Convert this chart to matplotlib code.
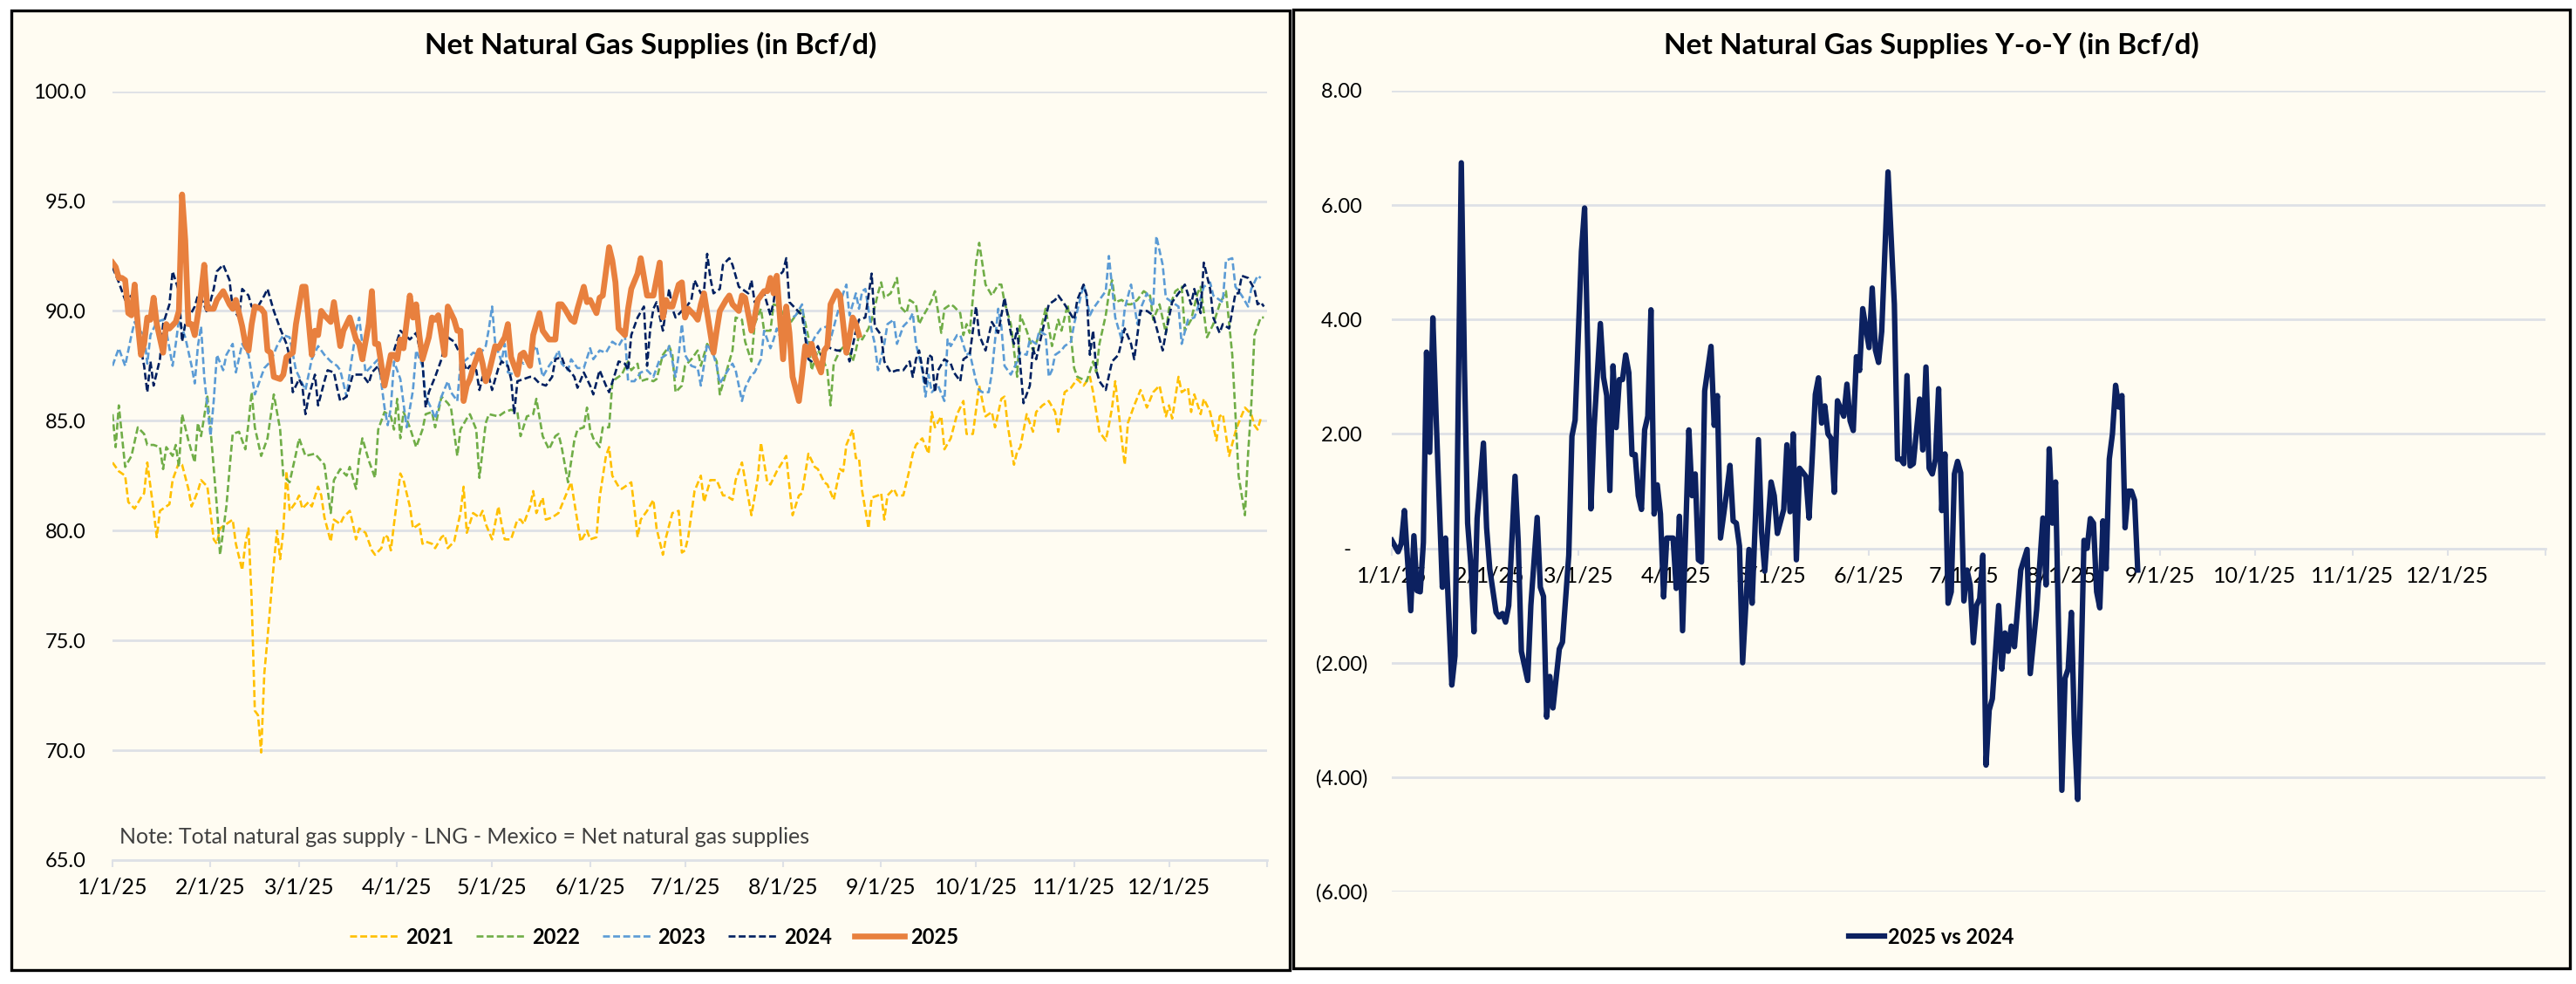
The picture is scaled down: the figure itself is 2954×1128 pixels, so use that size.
import matplotlib
matplotlib.use("Agg")
import matplotlib.pyplot as plt
from matplotlib.patches import Rectangle

plt.rcParams['font.family'] = ['Lato', 'DejaVu Sans']

# ---- data (day of year offset from 1/1, value in Bcf/d) ----
s2021 = [(0,83.1),(2,82.7),(4,82.5),(5,81.3),(7,81.0),(9,81.5),(10,81.7),(11,83.1),(13,80.9),(14,79.7),(15,80.9),
         (18,81.2),(19,82.3),(21,83.1),(22,83.0),(24,81.9),(25,81.1),(27,81.8),(28,82.3),(30,82.0),(32,79.6),(33,79.4),
         (34,80.1),(36,80.3),(38,80.5),(39,79.4),(41,78.2),(42,79.4),(43,80.1),(44,76.8),(45,71.8),(46,71.6),(47,69.9),
         (48,73.5),(49,75.1),(51,78.5),(52,80.0),(53,78.7),(54,80.0),(55,82.7),(56,80.9),(58,81.3),(59,81.6),(60,81.0),
         (62,81.3),(63,81.1),(65,82.0),(66,81.6),(67,80.6),(69,79.5),(70,80.5),(72,80.3),(73,80.6),(75,80.9),(76,80.3),
         (77,79.6),(78,80.1),(80,79.9),(82,79.1),(83,78.9),(85,79.2),(86,79.8),(87,79.7),(88,79.1),(89,80.3),(91,82.6),
         (92,82.3),(94,81.1),(95,80.1),(97,80.3),(98,79.4),(99,79.5),(101,79.4),(102,79.2),(104,79.7),(105,79.8),
         (106,79.2),(108,79.5),(110,80.8),(111,82.0),(112,79.9),(114,80.8),(116,80.6),(117,80.9),(118,80.3),(120,79.6),
         (122,81.1),(123,80.3),(124,79.6),(126,79.6),(128,80.5),(129,80.5),(130,80.3),(132,81.1),(133,81.8),(134,80.8),
         (136,81.5),(137,80.5),(139,80.6),(141,80.8),(143,81.5),(145,82.2),(146,81.3),(148,79.5),(150,80.0),(151,79.6),
         (153,79.7),(154,81.5),(156,83.4),(157,83.8),(158,82.5),(160,82.0),(161,81.9),(162,82.0),(164,82.2),(165,81.0),
         (166,79.7),(167,80.5),(169,80.9),(171,81.4),(172,80.1),(174,78.9),(175,79.7),(177,80.8),(179,80.9),(180,79.0),
         (181,79.1),(182,79.7),(184,81.8),(186,82.5),(187,81.3),(189,82.3),(191,82.3),(193,81.6),(194,81.6),(196,81.4),
         (197,82.3),(199,83.1),(200,82.3),(202,80.7),(204,82.4),(205,84.0),(207,82.2),(208,82.1),(210,82.7),(213,83.4),
         (214,82.0),(215,80.7),(217,81.6),(218,81.7),(220,83.5),(222,82.9),(223,82.8),(225,82.2),(226,82.1),(228,81.4),
         (230,82.8),(231,82.7),(232,83.9),(234,84.6),(235,83.3),(236,83.3),(237,81.8),(239,80.1),(240,81.5),(242,81.6),
         (243,81.7),(244,80.5),(245,81.6),(247,81.9),(248,81.6),(250,81.6),(252,82.8),(253,83.5),(254,83.9),(256,84.2),
         (258,83.5),(259,85.4),(260,84.7),(262,85.2),(263,83.7),(265,84.2),(267,85.3),(269,85.9),(270,84.4),(272,84.4),
         (274,86.6),(276,85.2),(278,85.4),(279,84.7),(281,86.0),(282,86.1),(283,84.8),(285,83.0),(286,83.6),(287,83.8),
         (289,85.3),(291,84.5),(292,85.4),(294,85.7),(296,85.9),(298,85.4),(299,84.5),(301,86.3),(303,86.5),(305,86.9),
         (307,86.6),(309,87.0),(310,86.3),(312,84.5),(314,84.1),(315,84.8),(316,85.6),(317,86.8),(319,84.2),(320,83.0),
         (321,84.9),(323,85.7),(325,86.4),(327,85.6),(329,86.3),(331,86.6),(333,85.2),(334,85.7),(335,85.1),(337,87.0),
         (338,86.3),(340,86.5),(341,85.4),(342,86.2),(344,85.3),(345,86.0),(347,85.4),(349,84.1),(350,85.2),(351,85.3),
         (353,83.4),(355,84.5),(356,84.9),(358,85.6),(360,85.3),(361,84.8),(362,84.6),(363,85.1)]

s2022 = [(0,85.3),(1,83.8),(2,85.7),(4,82.9),(6,83.4),(8,84.7),(10,84.4),(11,83.9),(13,83.9),(15,83.8),(16,82.8),
         (17,83.8),(19,83.4),(20,83.9),(21,82.9),(22,85.3),(24,84.1),(26,83.1),(27,84.9),(28,84.3),(30,86.1),(31,84.6),
         (33,81.1),(34,78.9),(36,81.1),(37,82.8),(38,84.4),(40,84.5),(42,83.7),(43,84.9),(44,86.3),(45,84.7),(47,83.4),
         (49,84.2),(51,86.2),(53,84.6),(54,82.5),(56,82.2),(58,83.5),(59,84.2),(61,83.4),(64,83.5),(67,83.0),(69,80.8),
         (70,82.3),(72,82.8),(74,82.5),(75,82.9),(77,81.9),(78,83.4),(79,84.2),(81,83.2),(83,82.4),(84,84.6),(86,85.4),
         (88,85.2),(89,84.6),(90,86.0),(91,84.2),(92,85.4),(94,84.7),(96,83.8),(98,84.6),(99,85.3),(101,85.4),(102,84.7),
         (104,86.1),(106,85.8),(107,85.6),(109,83.4),(110,84.6),(112,85.1),(113,85.3),(115,84.6),(116,82.4),(118,84.9),
         (119,85.3),(122,85.2),(123,85.3),(124,85.4),(126,85.5),(128,85.4),(129,84.3),(131,85.2),(133,85.3),(134,86.0),
         (136,84.3),(138,83.7),(140,84.3),(141,84.4),(142,83.8),(144,82.2),(146,84.1),(147,84.6),(149,84.7),(150,85.6),
         (151,84.6),(152,84.2),(154,83.8),(155,84.7),(157,84.7),(158,86.7),(159,86.9),(161,87.1),(163,87.7),(164,87.3),
         (166,87.6),(167,86.8),(169,86.9),(171,86.8),(172,86.9),(174,88.0),(176,88.4),(177,88.0),(178,86.3),(180,86.6),
         (181,87.5),(183,87.8),(185,88.2),(186,87.5),(188,88.5),(190,88.0),(191,87.7),(192,86.2),(194,87.2),(196,88.2),
         (197,89.7),(199,89.6),(200,88.6),(202,87.7),(203,89.4),(205,90.1),(206,89.1),(208,89.1),(209,90.3),(211,90.2),
         (212,89.8),(214,89.4),(216,89.8),(218,90.1),(220,88.8),(221,87.3),(223,88.2),(224,88.0),(226,87.3),(227,85.7),
         (228,87.6),(230,88.2),(232,88.5),(234,87.7),(235,88.2),(236,88.9),(237,88.7),(239,89.2),(240,89.6),(242,90.8),
         (243,91.3),(244,90.6),(246,90.8),(248,91.5),(249,90.2),(251,89.9),(252,90.5),(254,90.3),(255,89.4),(256,89.7),
         (258,90.2),(259,90.5),(260,90.9),(262,89.0),(263,90.1),(265,90.3),(266,90.2),(268,89.9),(269,88.9),(270,89.4),
         (271,89.0),(273,92.2),(274,93.1),(276,91.2),(278,90.7),(280,91.2),(281,91.2),(282,90.4),(284,89.4),(286,87.0),
         (287,89.8),(289,89.1),(291,88.2),(293,88.9),(295,90.1),(297,88.4),(299,89.6),(300,89.1),(302,90.3),(304,87.4),
         (305,87.0),(308,86.8),(310,87.7),(311,87.2),(312,88.5),(314,89.8),(315,90.8),(316,91.4),(317,90.4),(319,90.5),
         (321,90.3),(322,90.3),(324,90.5),(326,90.9),(328,90.7),(329,89.6),(331,90.3),(333,89.0),(334,90.1),(336,90.9),
         (338,91.1),(339,89.1),(341,89.6),(343,90.8),(344,91.1),(346,88.8),(348,89.4),(350,90.3),(352,90.9),(354,88.0),
         (355,85.3),(356,82.5),(358,80.7),(359,83.5),(360,85.7),(361,88.9),(363,89.7),(364,89.7)]

s2023 = [(0,87.5),(2,88.3),(4,87.5),(6,88.9),(7,89.5),(8,89.2),(10,88.9),(11,87.6),(12,88.9),(14,89.5),(16,89.6),
         (17,89.1),(19,87.5),(20,88.5),(21,89.6),(23,88.8),(25,87.5),(26,86.7),(27,88.4),(28,89.3),(29,87.0),(31,84.3),
         (32,85.9),(33,88.0),(35,87.3),(36,88.0),(38,88.5),(39,87.2),(41,88.5),(43,88.0),(45,86.2),(47,87.0),(48,87.4),
         (50,87.7),(52,88.4),(54,88.9),(56,88.8),(58,87.3),(60,86.7),(61,86.4),(63,87.8),(65,88.4),(67,88.0),(69,87.7),
         (71,87.5),(72,87.3),(74,86.1),(75,87.2),(77,89.1),(78,89.7),(80,87.2),(82,87.5),(84,87.8),(86,85.6),(87,84.8),
         (88,85.6),(89,87.7),(91,86.9),(93,84.7),(95,86.4),(96,88.2),(98,87.5),(99,86.1),(101,85.5),(102,85.1),(104,86.1),
         (106,86.8),(107,86.3),(109,85.9),(110,87.6),(112,87.8),(114,88.1),(116,88.0),(118,88.4),(119,89.2),(120,90.2),
         (121,88.5),(123,87.7),(124,88.5),(125,87.2),(127,87.1),(129,87.7),(130,87.6),(132,88.0),(134,88.4),(136,87.0),
         (138,87.5),(140,87.9),(141,88.2),(142,87.6),(144,87.3),(145,87.8),(147,87.4),(149,87.4),(151,88.3),(152,87.8),
         (154,88.2),(156,88.1),(158,88.6),(160,88.4),(162,88.9),(163,86.8),(165,86.8),(167,87.2),(169,87.3),(171,87.0),
         (173,87.8),(175,88.0),(176,88.4),(178,87.0),(179,88.0),(180,89.4),(181,88.0),(183,87.5),(185,87.4),(186,86.6),
         (188,88.5),(190,88.0),(191,87.5),(192,86.7),(195,87.4),(196,87.6),(197,87.3),(199,85.9),(200,86.5),(202,87.1),
         (203,87.2),(205,87.8),(206,89.1),(208,88.3),(209,88.7),(210,89.2),(212,88.5),(213,89.4),(215,89.7),(216,89.8),
         (218,90.3),(219,89.1),(220,88.2),(222,88.8),(224,89.2),(226,89.3),(227,88.7),(229,89.8),(231,90.8),(232,91.2),
         (233,89.8),(235,90.8),(236,90.1),(237,90.9),(238,91.0),(240,89.1),(241,88.5),(242,87.3),(244,88.5),(245,89.4),
         (247,89.6),(248,88.5),(250,89.3),(252,89.6),(253,89.9),(254,88.5),(256,87.3),(257,86.1),(258,87.1),(259,86.3),
         (261,86.6),(263,85.9),(264,88.7),(265,88.4),(267,88.9),(268,88.9),(270,88.0),(271,88.1),(273,86.8),(274,86.4),
         (275,86.3),(277,86.3),(278,87.2),(280,90.1),(281,89.3),(282,87.5),(284,87.1),(286,87.7),(287,88.1),(289,88.0),
         (290,88.7),(292,88.5),(293,89.1),(295,88.9),(296,87.0),(297,87.3),(298,88.0),(300,88.2),(301,88.4),(303,88.6),
         (304,89.4),(306,90.6),(307,91.2),(309,89.8),(310,90.1),(312,90.5),(314,90.9),(315,92.5),(317,89.7),(319,88.7),
         (320,90.1),(322,91.2),(324,89.4),(325,90.1),(327,90.8),(329,90.2),(330,93.4),(332,92.1),(333,90.6),(335,90.4),
         (337,90.2),(338,88.5),(340,89.6),(342,89.7),(343,90.1),(345,91.1),(347,91.3),(348,90.7),(351,90.4),(352,92.3),
         (354,92.4),(355,91.1),(357,90.7),(359,90.2),(360,91.0),(362,91.6),(363,91.5)]

s2024 = [(0,92.0),(2,91.3),(4,90.5),(6,90.7),(7,90.2),(8,89.0),(10,87.5),(11,86.3),(12,87.7),(13,86.6),(15,87.8),
         (16,89.4),(18,90.3),(19,91.8),(21,90.9),(22,88.6),(23,89.4),(26,90.2),(27,90.7),(28,90.6),(30,89.9),(32,91.0),
         (33,91.8),(35,92.1),(37,91.4),(38,90.1),(40,89.7),(41,91.0),(43,90.7),(44,90.2),(46,90.2),(48,90.7),(49,91.0),
         (51,90.0),(53,89.2),(55,88.5),(56,87.9),(57,86.3),(59,86.9),(60,86.6),(61,85.3),(62,86.1),(64,87.1),(65,85.7),
         (67,86.8),(68,87.3),(70,87.2),(71,86.5),(72,85.9),(74,86.1),(75,86.6),(76,87.1),(78,87.1),(79,87.1),(81,86.7),
         (82,87.2),(84,87.5),(85,87.0),(86,86.7),(88,87.8),(89,88.2),(91,89.1),(94,88.7),(96,89.0),(98,87.7),(99,85.6),
         (100,86.3),(102,87.0),(104,87.8),(105,88.4),(106,88.8),(108,88.6),(110,88.0),(112,87.3),(113,87.5),(115,87.3),
         (116,86.4),(117,87.0),(119,87.0),(120,86.4),(122,87.4),(123,87.7),(125,87.5),(126,86.9),(127,85.3),(128,86.8),
         (130,86.9),(132,87.0),(133,87.0),(135,86.7),(137,86.6),(139,87.0),(140,87.8),(142,87.9),(143,87.5),(145,87.2),
         (146,87.0),(147,86.5),(149,87.2),(151,86.6),(152,86.2),(154,87.3),(156,86.6),(157,86.3),(159,87.2),(160,87.7),
         (162,87.6),(163,87.3),(164,88.9),(166,89.7),(168,90.2),(169,87.5),(170,89.2),(171,90.1),(172,90.4),(174,89.1),
         (175,90.1),(176,91.0),(177,90.1),(178,89.7),(180,90.0),(181,90.1),(183,90.5),(184,91.4),(186,90.8),(187,90.9),
         (188,92.6),(189,91.5),(190,90.8),(192,91.0),(193,92.1),(195,92.4),(196,92.1),(198,91.1),(199,91.0),(201,90.8),
         (202,91.4),(203,90.4),(205,90.7),(206,90.8),(208,89.8),(209,90.4),(210,91.5),(212,91.8),(213,92.4),(214,90.4),
         (216,90.1),(218,89.8),(219,88.8),(220,87.8),(221,87.7),(223,88.4),(224,88.0),(226,88.4),(227,88.3),(229,88.2),
         (231,88.2),(232,88.2),(233,87.7),(235,89.1),(236,89.6),(238,89.7),(240,91.7),(241,89.3),(242,89.1),(243,88.9),
         (244,87.7),(246,87.2),(248,87.3),(250,87.3),(252,87.7),(253,87.0),(254,87.8),(255,88.2),(257,86.6),(258,88.0),
         (259,87.9),(260,86.3),(261,87.3),(263,87.8),(265,87.6),(266,87.2),(268,86.8),(269,87.8),(271,88.0),(273,90.2),
         (274,88.9),(276,88.2),(278,89.5),(280,89.0),(282,90.6),(284,89.0),(285,88.5),(286,89.2),(288,85.8),(290,86.6),
         (291,88.3),(292,87.8),(294,89.1),(296,90.3),(298,90.5),(299,90.7),(301,90.3),(304,89.6),(305,90.5),(307,91.2),
         (308,90.7),(309,88.0),(310,89.1),(311,87.3),(312,86.8),(314,86.4),(316,87.7),(318,88.0),(320,89.2),(322,88.5),
         (323,87.8),(325,90.0),(327,90.0),(329,89.8),(332,88.2),(333,89.0),(335,90.4),(338,91.0),(339,91.2),(341,90.3),
         (342,91.0),(344,89.9),(345,92.2),(347,91.0),(348,89.7),(350,89.0),(351,89.4),(353,89.2),(355,90.8),(356,90.8),
         (357,91.6),(359,91.5),(361,91.0),(362,90.3),(363,90.4),(364,90.2)]

s2025 = [(0,92.2),(1,92.0),(2,91.5),(3,91.5),(4,91.4),(5,89.9),(6,89.8),(7,91.2),(8,89.4),(9,88.0),(10,88.5),
         (11,89.7),(12,89.6),(13,90.6),(14,89.4),(16,88.1),(17,89.4),(18,89.2),(20,89.5),(21,90.0),(22,95.3),(23,93.2),
         (24,89.4),(25,89.4),(26,88.9),(28,90.8),(29,92.1),(30,90.1),(32,90.1),(33,90.5),(34,90.7),(35,90.9),(37,90.3),
         (38,90.1),(39,90.5),(41,89.3),(42,88.5),(43,88.2),(44,89.4),(45,90.2),(47,90.1),(48,89.9),(49,88.2),(50,88.1),
         (51,87.0),(53,86.9),(54,87.1),(55,87.9),(57,88.1),(58,89.4),(60,91.1),(61,91.1),(63,88.0),(64,89.1),(65,88.9),
         (66,90.0),(67,89.8),(69,89.5),(70,90.4),(72,88.4),(73,89.1),(74,89.4),(75,89.7),(77,88.7),(78,88.5),(79,87.8),
         (81,89.4),(82,90.9),(83,88.5),(84,88.5),(86,86.6),(87,87.3),(88,88.0),(89,88.0),(90,87.8),(91,88.7),(92,88.3),
         (94,90.7),(95,89.7),(96,90.3),(97,88.9),(98,87.8),(100,88.8),(101,89.7),(102,89.6),(103,89.8),(105,88.0),
         (106,90.2),(108,89.6),(109,89.1),(110,89.1),(111,85.9),(112,86.6),(113,86.9),(114,87.4),(116,88.2),(117,87.6),
         (118,86.8),(119,87.2),(121,88.4),(122,88.3),(124,88.8),(125,89.4),(126,87.9),(128,87.1),(129,88.0),(130,88.1),
         (132,87.5),(133,88.9),(135,89.9),(136,89.1),(138,88.7),(140,88.7),(141,90.3),(142,90.3),(143,90.1),(145,89.6),
         (146,89.5),(147,90.1),(149,91.1),(150,90.4),(151,90.5),(153,89.9),(154,90.6),(155,90.7),(157,92.9),(158,92.3),
         (159,91.3),(160,89.2),(162,88.9),(163,90.1),(164,91.0),(166,91.7),(167,92.4),(169,90.7),(171,90.7),(173,92.2),
         (174,89.7),(175,90.5),(176,90.2),(177,90.2),(179,91.2),(180,91.3),(181,89.7),(182,90.1),(184,89.8),(185,89.6),
         (186,90.3),(187,90.8),(189,89.0),(190,88.1),(191,89.1),(192,90.0),(194,90.5),(195,90.7),(196,90.3),(198,90.0),
         (199,90.7),(200,90.6),(202,89.1),(203,89.7),(204,90.5),(206,90.9),(207,90.9),(208,91.5),(209,90.8),(210,91.6),
         (212,87.8),(213,90.2),(214,89.0),(215,87.0),(217,85.9),(218,87.1),(219,88.4),(220,88.0),(221,88.5),(222,87.9),
         (224,87.2),(225,88.2),(226,88.4),(227,90.3),(229,90.9),(230,90.7),(232,88.1),(233,88.8),(234,89.7),(235,89.4),
         (236,88.9)]

yoy = [(0,0.14),(2,-0.06),(3,0.08),(4,0.66),(6,-1.09),(7,0.22),(8,-0.74),(9,-0.76),(10,0.1),(11,3.43),(12,1.68),
       (13,4.03),(14,2.35),(16,-0.68),(17,0.18),(19,-2.39),(20,-1.88),(22,6.74),(23,3.15),(24,0.44),(25,-0.28),
       (26,-1.46),(27,0.52),(29,1.84),(30,0.36),(31,-0.36),(33,-1.12),(34,-1.2),(35,-1.14),(36,-1.29),(37,-1.0),
       (39,1.26),(40,0.12),(41,-1.8),(43,-2.31),(44,-1.0),(46,0.54),(47,-0.68),(48,-0.84),(49,-2.95),(50,-2.24),
       (51,-2.79),(53,-1.76),(54,-1.64),(56,-0.12),(57,1.96),(58,2.24),(60,5.19),(61,5.95),(62,3.47),(63,0.69),
       (64,2.11),(66,3.93),(67,2.99),(68,2.67),(69,1.01),(70,3.19),(71,2.11),(72,2.95),(73,2.95),(74,3.38),(75,3.07),
       (76,1.64),(77,1.64),(78,0.92),(79,0.68),(80,2.07),(81,2.31),(82,4.17),(83,0.6),(84,1.11),(85,0.6),(86,-0.85),
       (87,0.18),(89,0.18),(90,-0.7),(91,0.56),(92,-1.44),(94,2.07),(95,0.92),(96,1.30),(97,-0.2),(98,-0.24),
       (99,2.75),(101,3.53),(102,2.15),(103,2.67),(104,0.18),(106,1.0),(107,1.45),(108,0.48),(109,0.44),(110,0.04),
       (111,-2.0),(113,-0.02),(114,-0.96),(116,1.90),(117,0.28),(118,-0.4),(120,1.16),(121,0.92),(122,0.26),
       (124,0.68),(125,1.81),(126,0.64),(127,2.0),(128,-0.2),(129,1.4),(131,1.26),(132,0.53),(133,1.56),(134,2.69),
       (135,2.98),(136,2.19),(137,2.49),(138,2.0),(139,1.92),(140,0.98),(141,2.58),(143,2.31),(144,2.87),(145,2.23),
       (146,2.06),(147,3.35),(148,3.11),(149,4.19),(151,3.51),(152,4.55),(153,3.47),(154,3.25),(155,3.79),(157,6.58),
       (159,4.27),(160,1.56),(161,1.56),(162,1.48),(163,3.02),(164,1.44),(165,1.48),(167,2.61),(168,1.72),(169,3.17),
       (170,1.4),(171,1.3),(172,1.56),(173,2.79),(174,0.66),(175,1.65),(176,-0.96),(177,-0.76),(178,1.3),(179,1.52),
       (180,1.32),(181,-0.92),(182,-0.38),(183,-0.64),(184,-1.65),(185,-1.0),(186,-0.88),(187,-0.12),(188,-3.79),
       (189,-2.83),(190,-2.63),(192,-1.0),(193,-2.11),(194,-1.48),(195,-1.8),(196,-1.36),(197,-1.72),(199,-0.38),
       (201,-0.02),(202,-2.19),(204,-1.08),(206,0.53),(207,-0.64),(208,1.74),(209,0.44),(210,1.16),(212,-4.23),
       (213,-2.27),(214,-2.11),(215,-1.12),(216,-3.23),(217,-4.39),(218,-2.27),(219,0.14),(220,0.0),(221,0.52),
       (222,0.44),(223,-0.76),(224,-1.04),(225,0.48),(226,-0.36),(227,1.56),(228,2.0),(229,2.85),(230,2.47),
       (231,2.67),(232,0.36),(233,1.0),(234,1.0),(235,0.84),(236,-0.38)]

years = ['2021', '2022', '2023', '2024', '2025']
series = [s2021, s2022, s2023, s2024, s2025]
colors = ['#FFC000', '#70AD47', '#5B9BD5', '#002060', '#E8803E']

month_days = [0, 31, 59, 90, 120, 151, 181, 212, 243, 273, 304, 334, 365]
month_labels = ['1/1/25', '2/1/25', '3/1/25', '4/1/25', '5/1/25', '6/1/25', '7/1/25',
                '8/1/25', '9/1/25', '10/1/25', '11/1/25', '12/1/25', '']

W, H = 2954, 1128
BG = '#FFFCF2'
GRID = '#DEE1E6'

fig = plt.figure(figsize=(W / 100, H / 100), dpi=100)
fig.patch.set_facecolor('white')


def px_box(x0, y0, x1, y1):
    # pixel box (top-left origin) -> figure fraction rect
    return [x0 / W, 1 - y1 / H, (x1 - x0) / W, (y1 - y0) / H]


for (x0, y0, x1, y1) in [(13, 12, 1479, 1112), (1483, 11, 2947, 1110)]:
    r = px_box(x0, y0, x1, y1)
    fig.patches.append(Rectangle((r[0], r[1]), r[2], r[3], transform=fig.transFigure,
                                 facecolor=BG, edgecolor='black', lw=2.4, zorder=-5))


def style_axis(ax):
    ax.set_facecolor('none')
    ax.set_zorder(2)
    for s in ['top', 'right', 'left']:
        ax.spines[s].set_visible(False)
    ax.spines['bottom'].set_color(GRID)
    ax.spines['bottom'].set_linewidth(2)
    ax.yaxis.grid(True, color=GRID, lw=2)
    ax.set_axisbelow(True)
    ax.set_xlim(0, 365)
    ax.set_xticks(month_days)
    ax.set_xticklabels(month_labels)
    ax.tick_params(axis='x', direction='out', length=6, width=1.5, color=GRID,
                   labelsize=18, pad=8)
    ax.tick_params(axis='y', length=0, labelsize=17)


# ---- left chart ----
ax1 = fig.add_axes(px_box(129, 104.6, 1453, 986))
style_axis(ax1)
ax1.set_ylim(65, 100)
ax1.set_yticks(range(65, 101, 5))
ax1.set_yticklabels([f'{v:.1f}' for v in range(65, 101, 5)])
ax1.tick_params(axis='y', pad=22)

handles = []
for yr, s, c in zip(years, series, colors):
    xs = [p[0] for p in s]
    ys = [p[1] for p in s]
    if yr == '2025':
        ln, = ax1.plot(xs, ys, color=c, lw=4.8, solid_joinstyle='round', zorder=5)
    else:
        ln, = ax1.plot(xs, ys, color=c, lw=1.9, linestyle=(0, (3, 1.4)), zorder=3)
    handles.append(ln)

ax1.text(2.3, 66.05, 'Note: Total natural gas supply - LNG - Mexico = Net natural gas supplies',
         fontsize=18, color='#404040', va='center', ha='left')

fig.text(746 / W, 1 - 52 / H, 'Net Natural Gas Supplies (in Bcf/d)', ha='center', va='center',
         fontsize=24, fontweight='bold')
fig.legend(handles, years, loc='center', bbox_to_anchor=(750 / W, 1 - 1074 / H), ncol=5,
           frameon=False, handlelength=2.4, handletextpad=0.3, columnspacing=1.1,
           prop={'size': 17, 'weight': 'bold'})

# ---- right chart ----
ax2 = fig.add_axes(px_box(1596, 104, 2919, 1022))
style_axis(ax2)
ax2.set_ylim(-6, 8)
ax2.spines['bottom'].set_position(('data', 0))
yt = [-6, -4, -2, 0, 2, 4, 6, 8]
ylabs = [f'({abs(v):.2f})' if v < 0 else ('-   ' if v == 0 else f'{v:.2f} ') for v in yt]
ax2.set_yticks(yt)
ax2.set_yticklabels(ylabs)
ax2.tick_params(axis='y', pad=20)

ln2, = ax2.plot([p[0] for p in yoy], [p[1] for p in yoy], color='#0C2160', lw=4.5,
                solid_joinstyle='round', zorder=5)

fig.text(2215 / W, 1 - 52 / H, 'Net Natural Gas Supplies Y-o-Y (in Bcf/d)', ha='center', va='center',
         fontsize=24, fontweight='bold')
fig.legend([ln2], ['2025 vs 2024'], loc='center', bbox_to_anchor=(2215 / W, 1 - 1074 / H),
           frameon=False, handlelength=1.7, handletextpad=0.2,
           prop={'size': 17, 'weight': 'bold'})

fig.savefig('out.png', dpi=100, facecolor='white')
